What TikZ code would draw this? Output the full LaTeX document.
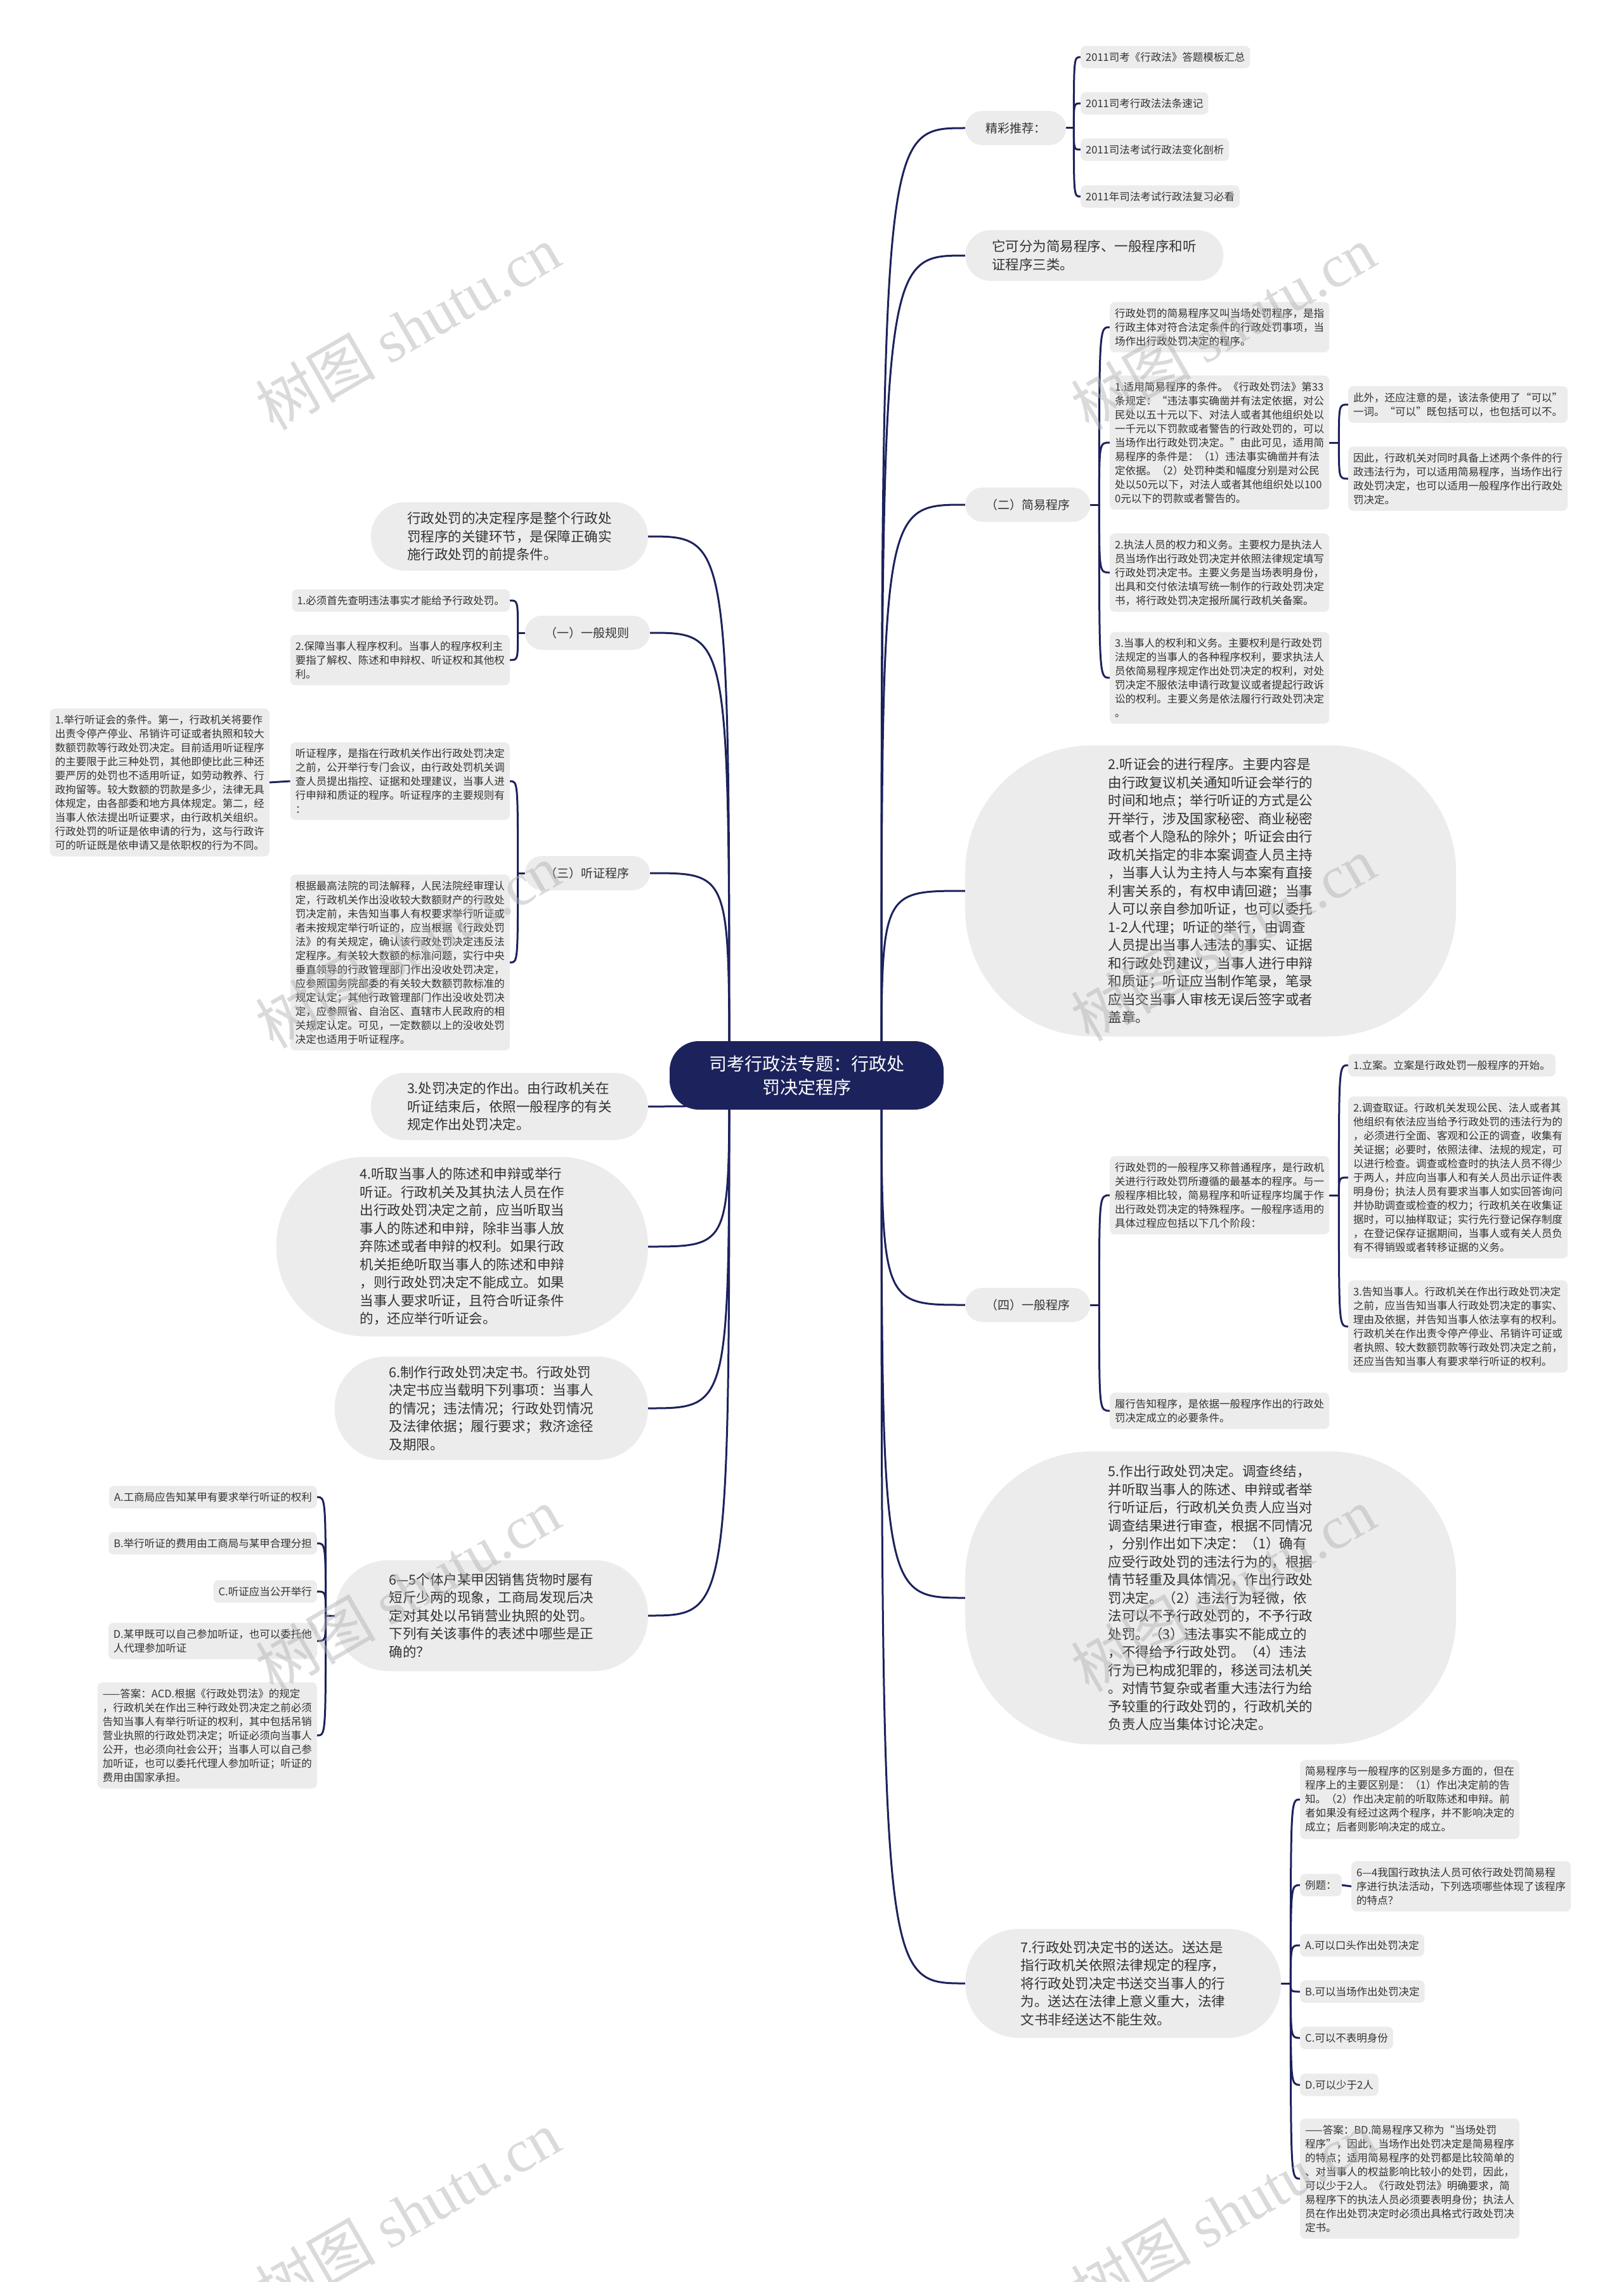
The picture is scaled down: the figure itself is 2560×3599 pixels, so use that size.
\documentclass[tikz,border=0pt]{standalone}
\usepackage{fontspec}
\setmainfont{Noto Sans CJK SC}
\newfontfamily\markfont{Liberation Serif}
\usetikzlibrary{positioning}

\definecolor{navy}{RGB}{28,34,92}
\definecolor{boxgray}{RGB}{236,236,236}
\definecolor{ink}{RGB}{51,51,51}
\definecolor{markgray}{RGB}{175,175,175}

\pgfdeclarelayer{paper}
\pgfdeclarelayer{links}
\pgfsetlayers{paper,links,main}

\tikzset{
  leaf/.style={fill=boxgray, text=ink, rounded corners=8, inner xsep=8, inner ysep=10,
    align=left, font=\fontsize{16.5}{22}\selectfont},
  tag/.style={fill=boxgray, text=ink, rounded corners=27, inner xsep=32, minimum height=54,
    font=\fontsize{19}{24}\selectfont},
  ball/.style={fill=boxgray, text=ink, align=left, inner sep=0,
    font=\fontsize{21.5}{28.5}\selectfont},
  link/.style={draw=navy, line width=3},
  wmark/.style={text=markgray, opacity=0.45, rotate=30, font=\fontsize{95}{100}\selectfont},
}

\begin{document}
\begin{tikzpicture}[x=1pt, y=-1pt]
	\useasboundingbox (0,0) rectangle (2560,3599);
	\begin{pgfonlayer}{paper}
		\fill[white] (0,0) rectangle (2560,3599);
	\end{pgfonlayer}

	% 中心主题
	\node[fill=navy, text=white, rounded corners=46, minimum width=432, minimum height=108,
	      align=center, font=\fontsize{28}{37}\selectfont] (root) at (1272,1696)
	      {司考行政法专题：行政处\\罚决定程序};
	\coordinate (hubR) at (1390,1696);
	\coordinate (hubL) at (1150,1696);

	% 右侧
	\node[tag, anchor=west] (jc) at (1522,202) {精彩推荐：};
	\coordinate (jcK) at ([xshift=12]jc.east);
	\foreach \n/\y/\txt in {1/90/2011司考《行政法》答题模板汇总, 2/163/2011司考行政法法条速记,
	                        3/236/2011司法考试行政法变化剖析, 4/310/2011年司法考试行政法复习必看}
		\node[leaf, anchor=west] (rec\n) at (1704,\y) {\txt};

	\node[ball, minimum width=407, minimum height=80, rounded corners=40, anchor=west] (fen) at (1522,403)
	     {它可分为简易程序、一般程序和听\\证程序三类。};

	\node[tag, anchor=west] (jy) at (1522,796) {（二）简易程序};
	\coordinate (jyK) at ([xshift=14]jy.east);
	\node[leaf, anchor=west] (s1) at (1750,516) {行政处罚的简易程序又叫当场处罚程序，是指\\行政主体对符合法定条件的行政处罚事项，当\\场作出行政处罚决定的程序。};
	\node[leaf, anchor=west] (s2) at (1750,698) {1.适用简易程序的条件。《行政处罚法》第33\\条规定：“违法事实确凿并有法定依据，对公\\民处以五十元以下、对法人或者其他组织处以\\一千元以下罚款或者警告的行政处罚的，可以\\当场作出行政处罚决定。”由此可见，适用简\\易程序的条件是：（1）违法事实确凿并有法\\定依据。（2）处罚种类和幅度分别是对公民\\处以50元以下，对法人或者其他组织处以100\\0元以下的罚款或者警告的。};
	\node[leaf, anchor=west] (s3) at (1750,903) {2.执法人员的权力和义务。主要权力是执法人\\员当场作出行政处罚决定并依照法律规定填写\\行政处罚决定书。主要义务是当场表明身份，\\出具和交付依法填写统一制作的行政处罚决定\\书，将行政处罚决定报所属行政机关备案。};
	\node[leaf, anchor=west] (s4) at (1750,1069) {3.当事人的权利和义务。主要权利是行政处罚\\法规定的当事人的各种程序权利，要求执法人\\员依简易程序规定作出处罚决定的权利，对处\\罚决定不服依法申请行政复议或者提起行政诉\\讼的权利。主要义务是依法履行行政处罚决定\\。};
	\coordinate (s2K) at ([xshift=15]s2.east);
	\node[leaf, anchor=west] (n1) at (2126,638) {此外，还应注意的是，该法条使用了“可以”\\一词。“可以”既包括可以，也包括可以不。};
	\node[leaf, anchor=west] (n2) at (2126,755) {因此，行政机关对同时具备上述两个条件的行\\政违法行为，可以适用简易程序，当场作出行\\政处罚决定，也可以适用一般程序作出行政处\\罚决定。};

	\node[ball, minimum width=774, minimum height=459, rounded corners=200, anchor=west] (tz) at (1522,1405)
	     {2.听证会的进行程序。主要内容是\\由行政复议机关通知听证会举行的\\时间和地点；举行听证的方式是公\\开举行，涉及国家秘密、商业秘密\\或者个人隐私的除外；听证会由行\\政机关指定的非本案调查人员主持\\，当事人认为主持人与本案有直接\\利害关系的，有权申请回避；当事\\人可以亲自参加听证，也可以委托\\1-2人代理；听证的举行，由调查\\人员提出当事人违法的事实、证据\\和行政处罚建议，当事人进行申辩\\和质证；听证应当制作笔录，笔录\\应当交当事人审核无误后签字或者\\盖章。};

	\node[tag, anchor=west] (yb) at (1522,2058) {（四）一般程序};
	\coordinate (ybK) at ([xshift=14]yb.east);
	\node[leaf, anchor=west] (g1) at (1750,1885) {行政处罚的一般程序又称普通程序，是行政机\\关进行行政处罚所遵循的最基本的程序。与一\\般程序相比较，简易程序和听证程序均属于作\\出行政处罚决定的特殊程序。一般程序适用的\\具体过程应包括以下几个阶段：};
	\node[leaf, anchor=west] (g2) at (1750,2225) {履行告知程序，是依据一般程序作出的行政处\\罚决定成立的必要条件。};
	\coordinate (g1K) at ([xshift=15]g1.east);
	\node[leaf, anchor=west] (h1) at (2126,1680) {1.立案。立案是行政处罚一般程序的开始。};
	\node[leaf, anchor=west] (h2) at (2126,1857) {2.调查取证。行政机关发现公民、法人或者其\\他组织有依法应当给予行政处罚的违法行为的\\，必须进行全面、客观和公正的调查，收集有\\关证据；必要时，依照法律、法规的规定，可\\以进行检查。调查或检查时的执法人员不得少\\于两人，并应向当事人和有关人员出示证件表\\明身份；执法人员有要求当事人如实回答询问\\并协助调查或检查的权力；行政机关在收集证\\据时，可以抽样取证；实行先行登记保存制度\\，在登记保存证据期间，当事人或有关人员负\\有不得销毁或者转移证据的义务。};
	\node[leaf, anchor=west] (h3) at (2126,2092) {3.告知当事人。行政机关在作出行政处罚决定\\之前，应当告知当事人行政处罚决定的事实、\\理由及依据，并告知当事人依法享有的权利。\\行政机关在作出责令停产停业、吊销许可证或\\者执照、较大数额罚款等行政处罚决定之前，\\还应当告知当事人有要求举行听证的权利。};

	\node[ball, minimum width=774, minimum height=462, rounded corners=200, anchor=west] (zc) at (1522,2520)
	     {5.作出行政处罚决定。调查终结，\\并听取当事人的陈述、申辩或者举\\行听证后，行政机关负责人应当对\\调查结果进行审查，根据不同情况\\，分别作出如下决定：（1）确有\\应受行政处罚的违法行为的，根据\\情节轻重及具体情况，作出行政处\\罚决定。（2）违法行为轻微，依\\法可以不予行政处罚的，不予行政\\处罚。（3）违法事实不能成立的\\，不得给予行政处罚。（4）违法\\行为已构成犯罪的，移送司法机关\\。对情节复杂或者重大违法行为给\\予较重的行政处罚的，行政机关的\\负责人应当集体讨论决定。};

	\node[ball, minimum width=498, minimum height=172, rounded corners=85, anchor=west] (sd) at (1522,3128)
	     {7.行政处罚决定书的送达。送达是\\指行政机关依照法律规定的程序，\\将行政处罚决定书送交当事人的行\\为。送达在法律上意义重大，法律\\文书非经送达不能生效。};
	\coordinate (sdK) at ([xshift=15]sd.east);
	\node[leaf, anchor=west] (q1) at (2050,2838) {简易程序与一般程序的区别是多方面的，但在\\程序上的主要区别是：（1）作出决定前的告\\知。（2）作出决定前的听取陈述和申辩。前\\者如果没有经过这两个程序，并不影响决定的\\成立；后者则影响决定的成立。};
	\node[leaf, anchor=west] (q2) at (2050,2973) {例题：};
	\node[leaf, anchor=west] (q2c) at (2131,2975) {6—4我国行政执法人员可依行政处罚简易程\\序进行执法活动，下列选项哪些体现了该程序\\的特点？};
	\foreach \n/\y/\txt in {3/3068/A.可以口头作出处罚决定, 4/3141/B.可以当场作出处罚决定,
	                        5/3214/C.可以不表明身份, 6/3288/D.可以少于2人}
		\node[leaf, anchor=west] (q\n) at (2050,\y) {\txt};
	\node[leaf, anchor=west] (q7) at (2050,3436) {——答案：BD.简易程序又称为“当场处罚\\程序”，因此，当场作出处罚决定是简易程序\\的特点；适用简易程序的处罚都是比较简单的\\、对当事人的权益影响比较小的处罚，因此，\\可以少于2人。《行政处罚法》明确要求，简\\易程序下的执法人员必须要表明身份；执法人\\员在作出处罚决定时必须出具格式行政处罚决\\定书。};

	% 左侧
	\node[ball, minimum width=437, minimum height=108, rounded corners=54, anchor=east] (jd) at (1022,846)
	     {行政处罚的决定程序是整个行政处\\罚程序的关键环节，是保障正确实\\施行政处罚的前提条件。};

	\node[tag, anchor=east] (yg) at (1025,998) {（一）一般规则};
	\coordinate (ygK) at ([xshift=-11]yg.west);
	\node[leaf, anchor=east] (r1) at (804,947) {1.必须首先查明违法事实才能给予行政处罚。};
	\node[leaf, anchor=east] (r2) at (804,1041) {2.保障当事人程序权利。当事人的程序权利主\\要指了解权、陈述和申辩权、听证权和其他权\\利。};

	\node[tag, anchor=east] (tzcx) at (1025,1377) {（三）听证程序};
	\coordinate (tzcxK) at ([xshift=-11]tzcx.west);
	\node[leaf, anchor=east] (t1) at (804,1232) {听证程序，是指在行政机关作出行政处罚决定\\之前，公开举行专门会议，由行政处罚机关调\\查人员提出指控、证据和处理建议，当事人进\\行申辩和质证的程序。听证程序的主要规则有\\：};
	\node[leaf, anchor=east] (t1c) at (425,1234) {1.举行听证会的条件。第一，行政机关将要作\\出责令停产停业、吊销许可证或者执照和较大\\数额罚款等行政处罚决定。目前适用听证程序\\的主要限于此三种处罚，其他即使比此三种还\\要严厉的处罚也不适用听证，如劳动教养、行\\政拘留等。较大数额的罚款是多少，法律无具\\体规定，由各部委和地方具体规定。第二，经\\当事人依法提出听证要求，由行政机关组织。\\行政处罚的听证是依申请的行为，这与行政许\\可的听证既是依申请又是依职权的行为不同。};
	\node[leaf, anchor=east] (t2) at (804,1518) {根据最高法院的司法解释，人民法院经审理认\\定，行政机关作出没收较大数额财产的行政处\\罚决定前，未告知当事人有权要求举行听证或\\者未按规定举行听证的，应当根据《行政处罚\\法》的有关规定，确认该行政处罚决定违反法\\定程序。有关较大数额的标准问题，实行中央\\垂直领导的行政管理部门作出没收处罚决定，\\应参照国务院部委的有关较大数额罚款标准的\\规定认定；其他行政管理部门作出没收处罚决\\定，应参照省、自治区、直辖市人民政府的相\\关规定认定。可见，一定数额以上的没收处罚\\决定也适用于听证程序。};

	\node[ball, minimum width=437, minimum height=106, rounded corners=53, anchor=east] (cf) at (1022,1745)
	     {3.处罚决定的作出。由行政机关在\\听证结束后，依照一般程序的有关\\规定作出处罚决定。};

	\node[ball, minimum width=586, minimum height=283, rounded corners=140, anchor=east] (tq) at (1022,1966)
	     {4.听取当事人的陈述和申辩或举行\\听证。行政机关及其执法人员在作\\出行政处罚决定之前，应当听取当\\事人的陈述和申辩，除非当事人放\\弃陈述或者申辩的权利。如果行政\\机关拒绝听取当事人的陈述和申辩\\，则行政处罚决定不能成立。如果\\当事人要求听证，且符合听证条件\\的，还应举行听证会。};

	\node[ball, minimum width=494, minimum height=163, rounded corners=80, anchor=east] (zz) at (1022,2221)
	     {6.制作行政处罚决定书。行政处罚\\决定书应当载明下列事项：当事人\\的情况；违法情况；行政处罚情况\\及法律依据；履行要求；救济途径\\及期限。};

	\node[ball, minimum width=494, minimum height=175, rounded corners=85, anchor=east] (gt) at (1022,2548)
	     {6—5个体户某甲因销售货物时屡有\\短斤少两的现象，工商局发现后决\\定对其处以吊销营业执照的处罚。\\下列有关该事件的表述中哪些是正\\确的？};
	\coordinate (gtK) at ([xshift=-14]gt.west);
	\foreach \n/\y/\txt in {1/2361/A.工商局应告知某甲有要求举行听证的权利,
	                        2/2434/B.举行听证的费用由工商局与某甲合理分担,
	                        3/2510/C.听证应当公开举行}
		\node[leaf, anchor=east] (o\n) at (500,\y) {\txt};
	\node[leaf, anchor=east] (o4) at (500,2588) {D.某甲既可以自己参加听证，也可以委托他\\人代理参加听证};
	\node[leaf, anchor=east] (o5) at (500,2737) {——答案：ACD.根据《行政处罚法》的规定\\，行政机关在作出三种行政处罚决定之前必须\\告知当事人有举行听证的权利，其中包括吊销\\营业执照的行政处罚决定；听证必须向当事人\\公开，也必须向社会公开；当事人可以自己参\\加听证，也可以委托代理人参加听证；听证的\\费用由国家承担。};

	% 连线
	\begin{pgfonlayer}{links}
		\foreach \c in {jc,fen,jy,tz,yb,zc,sd}
			\draw[link] (hubR) .. controls (hubR |- \c.west) .. (\c.west);
		\foreach \c in {jd,yg,tzcx,cf,tq,zz,gt}
			\draw[link] (hubL) .. controls (hubL |- \c.east) .. (\c.east);

		\draw[link] (jc.east) -- (jcK);
		\foreach \c in {rec1,rec2,rec3,rec4}
			\draw[link] (jcK) .. controls (jcK |- \c.west) .. (\c.west);

		\draw[link] (jy.east) -- (jyK);
		\foreach \c in {s1,s2,s3,s4}
			\draw[link] (jyK) .. controls (jyK |- \c.west) .. (\c.west);
		\draw[link] (s2.east) -- (s2K);
		\foreach \c in {n1,n2}
			\draw[link] (s2K) .. controls (s2K |- \c.west) .. (\c.west);

		\draw[link] (yb.east) -- (ybK);
		\foreach \c in {g1,g2}
			\draw[link] (ybK) .. controls (ybK |- \c.west) .. (\c.west);
		\draw[link] (g1.east) -- (g1K);
		\foreach \c in {h1,h2,h3}
			\draw[link] (g1K) .. controls (g1K |- \c.west) .. (\c.west);

		\draw[link] (sd.east) -- (sdK);
		\foreach \c in {q1,q2,q3,q4,q5,q6,q7}
			\draw[link] (sdK) .. controls (sdK |- \c.west) .. (\c.west);
		\draw[link] (q2.east) -- (q2c.west);

		\draw[link] (yg.west) -- (ygK);
		\foreach \c in {r1,r2}
			\draw[link] (ygK) .. controls (ygK |- \c.east) .. (\c.east);
		\draw[link] (tzcx.west) -- (tzcxK);
		\foreach \c in {t1,t2}
			\draw[link] (tzcxK) .. controls (tzcxK |- \c.east) .. (\c.east);
		\draw[link] (t1.west) -- (t1c.east);

		\draw[link] (gt.west) -- (gtK);
		\foreach \c in {o1,o2,o3,o4,o5}
			\draw[link] (gtK) .. controls (gtK |- \c.east) .. (\c.east);
	\end{pgfonlayer}

	% 水印
	\foreach \x/\y in {643/517, 1929/517, 643/1492, 1929/1481, 643/2507, 1929/2507, 643/3490, 1929/3490}
		\node[wmark] (wm) at (\x,\y) {树图 {\markfont shutu.cn}};

\end{tikzpicture}
\end{document}
